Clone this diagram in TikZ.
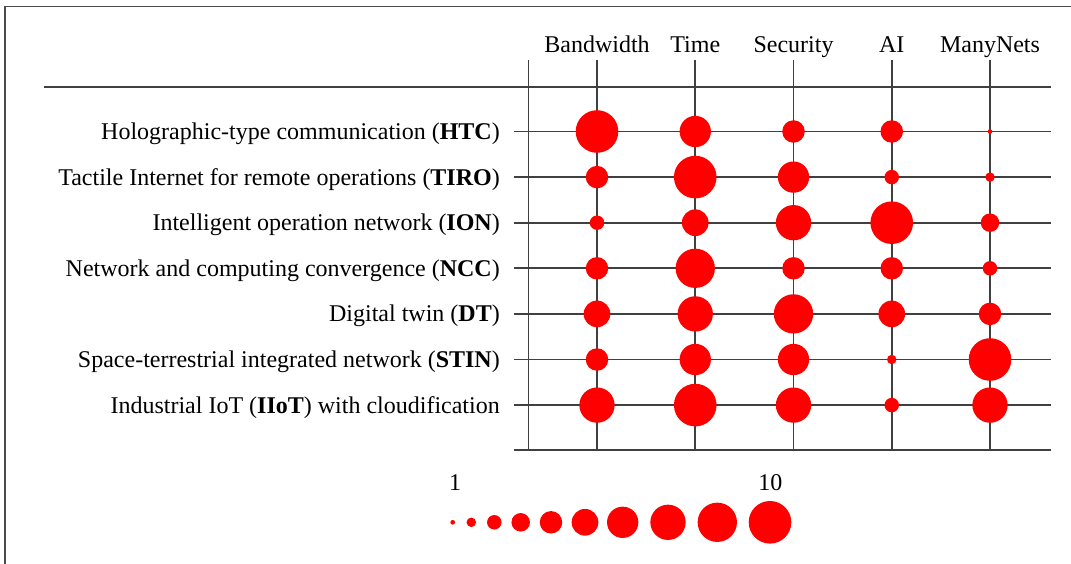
\documentclass[tikz,border=0pt]{standalone}
\usepackage{fontspec}
\setmainfont{Liberation Serif}
\begin{document}
\begin{tikzpicture}[x=1pt, y=-1pt,
  font=\fontsize{24}{28}\selectfont,
  frameline/.style={line width=1.6pt, draw=black!70},
  gridline/.style={line width=1.9pt, draw=black!75},
  bubble/.style={circle, fill=red, draw=none, inner sep=0pt, minimum size=#1},
  rowlabel/.style={anchor=base east, inner sep=0pt},
  colhead/.style={anchor=base, inner sep=0pt},
  legendnum/.style={anchor=base, inner sep=0pt}]
\useasboundingbox (0,0) rectangle (1071,564);

% outer frame (left and top edges)
\draw[frameline] (5,564) -- (5,6.7) -- (1071,6.7);

% horizontal rules
\draw[gridline] (44,86.7) -- (1051,86.7);
\foreach \r in {1,...,7}
  \draw[gridline] (514,{131.5+45.6*(\r-1)}) -- (1051,{131.5+45.6*(\r-1)});
\draw[gridline] (514,450.3) -- (1051,450.3);

% vertical rules
\draw[gridline] (528.5,60) -- (528.5,450.3);
\foreach \c in {1,...,5}
  \draw[gridline] ({597+98.25*(\c-1)},60) -- ({597+98.25*(\c-1)},450.3);

% column headings
\foreach \h [count=\c] in {Bandwidth,Time,Security,AI,ManyNets}
  \node[colhead] (head\c) at ({597+98.25*(\c-1)},52.7) {\h};

% row labels
\foreach \lab [count=\r] in {
  {Holographic-type communication (\textbf{HTC})},
  {Tactile Internet for remote operations (\textbf{TIRO})},
  {Intelligent operation network (\textbf{ION})},
  {Network and computing convergence (\textbf{NCC})},
  {Digital twin (\textbf{DT})},
  {Space-terrestrial integrated network (\textbf{STIN})},
  {Industrial IoT (\textbf{IIoT}) with cloudification}}
  \node[rowlabel] (row\r) at (500,{131.5+45.6*(\r-1)+8}) {\lab};

% bubble diameters for levels 1..10
\def\diams{{4.7,9.5,14.5,18.5,22.5,26.7,31.3,35.3,39.3,42.6}}

% requirement levels per row and column
\foreach \r/\vals in {1/{10,7,5,5,1}, 2/{5,10,7,3,2}, 3/{3,6,8,10,4},
                      4/{5,9,5,5,3}, 5/{6,8,9,6,5}, 6/{5,7,7,2,10},
                      7/{8,10,8,3,8}}
  \foreach \v [count=\c] in \vals {
    \pgfmathsetmacro\d{\diams[\v-1]}
    \node[bubble=\d pt] (cell\r-\c) at ({597+98.25*(\c-1)},{131.5+45.6*(\r-1)}) {};
  }

% size legend
\foreach \x [count=\n] in {452.7,471.3,494.3,520.7,551,585,622.7,668,717.3,770} {
  \pgfmathsetmacro\d{\diams[\n-1]}
  \node[bubble=\d pt] (key\n) at (\x,522.3) {};
}
\node[legendnum] (keylo) at (455,490.7) {1};
\node[legendnum] (keyhi) at (770.3,490.7) {10};
\end{tikzpicture}
\end{document}
